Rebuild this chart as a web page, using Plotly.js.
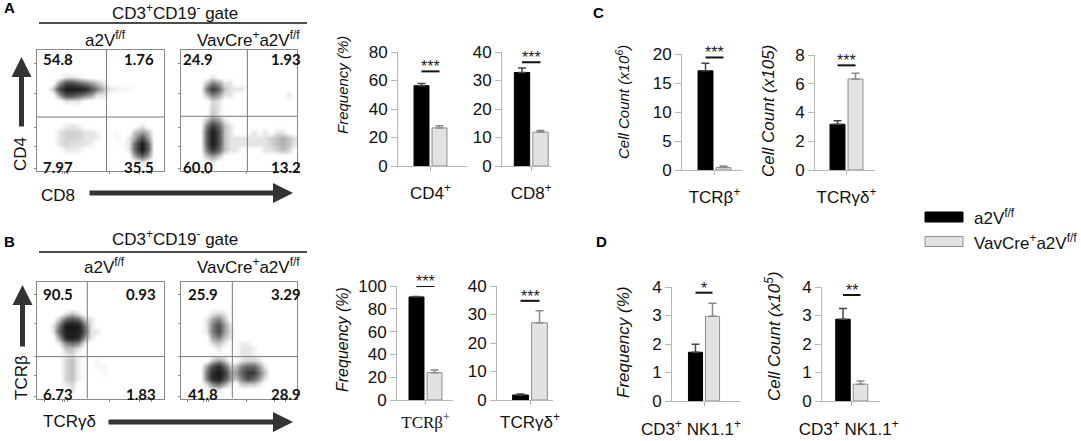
<!DOCTYPE html>
<html>
<head>
<meta charset="utf-8">
<script src="https://cdn.plot.ly/plotly-3.0.1.min.js"></script>
<style>
  html, body { margin: 0; padding: 0; background: #fff; }
  #chart { width: 1081px; height: 441px; }
</style>
</head>
<body>
<div id="chart"></div>
<script>
// ---- data ----
var groups = ["a2V<sup>f/f</sup>", "VavCre<sup>+</sup>a2V<sup>f/f</sup>"];

// bar values: [a2V f/f, VavCre+a2V f/f]
var cd4Freq = [56.4, 26.7], cd4Err = [1.5, 1.5];
var cd8Freq = [32.8, 11.9], cd8Err = [1.6, 0.6];
var tcrbCount = [17.1, 0.42], tcrbCountErr = [1.3, 0.25];
var tcrgdCount = [3.18, 6.33], tcrgdCountErr = [0.25, 0.4];
var tcrbFreq = [90.4, 24.0], tcrbFreqErr = [0.4, 2.3];
var tcrgdFreq = [1.75, 27.1], tcrgdFreqErr = [0.35, 4.2];
var nkFreq = [1.71, 2.97], nkFreqErr = [0.28, 0.46];
var nkCount = [2.87, 0.59], nkCountErr = [0.38, 0.11];

var barLabels = ["CD4<sup>+</sup>", "CD8<sup>+</sup>", "TCRβ<sup>+</sup>", "TCRγδ<sup>+</sup>",
  "TCRβ<sup>+</sup>", "TCRγδ<sup>+</sup>", "CD3<sup>+</sup> NK1.1<sup>+</sup>", "CD3<sup>+</sup> NK1.1<sup>+</sup>"];
var sigMarks = ["***", "***", "***", "***", "***", "***", "*", "**"];

// quadrant percentages [UL, UR, LL, LR]
var aCtrlQuad = ["54.8", "1.76", "7.97", "35.5"];
var aKoQuad = ["24.9", "1.93", "60.0", "13.2"];
var bCtrlQuad = ["90.5", "0.93", "6.73", "1.83"];
var bKoQuad = ["25.9", "3.29", "41.8", "28.9"];

// quadrant gates (fraction of axis)
var gateX = [0.547, 0.574, 0.396, 0.445];
var gateY = [0.446, 0.452, 0.358, 0.358];

// dot-plot density, [column, row, level] on a 20x20 grid (row 0 = bottom)
var aCtrlDots = [
  [4,15,1],[5,15,1],[6,15,0.7],
  [3,14,3],[4,14,6],[5,14,6],[6,14,5],[7,14,4],[8,14,3],[9,14,2],[10,14,1],
  [2,13,2],[3,13,6],[4,13,9],[5,13,9],[6,13,9],[7,13,8],[8,13,6],[9,13,4],[10,13,2],[11,13,1],[12,13,0.7],[13,13,0.5],[14,13,0.4],
  [3,12,3],[4,12,6],[5,12,6],[6,12,5],[7,12,4],[8,12,3],[9,12,1],[10,12,1],
  [4,11,1],[5,11,1],[6,11,1],
  [4,7,0.8],[5,7,1],[6,7,0.8],
  [3,6,1],[4,6,1.5],[5,6,1.5],[6,6,1.5],[7,6,1],[8,6,1],[9,6,0.7],
  [3,5,1],[4,5,1.5],[5,5,1.5],[6,5,1.5],[7,5,1],[8,5,1],[9,5,0.7],
  [3,4,1],[4,4,1.5],[5,4,1.2],[6,4,1],[7,4,1],[8,4,0.7],
  [4,3,0.8],[5,3,0.8],[6,3,0.7],
  [12,6,0.5],[12,5,0.5],[13,4,0.5],
  [16,7,1],
  [15,6,2],[16,6,3],[17,6,2],
  [14,5,1],[15,5,3],[16,5,6],[17,5,3],
  [14,4,1],[15,4,5],[16,4,9],[17,4,5],
  [14,3,1],[15,3,5],[16,3,9],[17,3,5],
  [15,2,3],[16,2,5],[17,2,3],
  [16,1,1]
];
var aKoDots = [
  [5,15,1],
  [4,14,2],[5,14,4],[6,14,3],[7,14,1],[8,14,1],
  [4,13,4],[5,13,7],[6,13,5],[7,13,2],[8,13,1],[9,13,1],[10,13,1],
  [4,12,2],[5,12,4],[6,12,3],[7,12,1],[8,12,1],[18,12,1],
  [5,11,1.5],[6,11,1],
  [5,10,1.5],[6,10,1],
  [5,9,2],[6,9,1],
  [4,8,2],[5,8,4],[6,8,3],[7,8,1],
  [4,7,4],[5,7,7],[6,7,5],[7,7,2],[8,7,1],
  [4,6,5],[5,6,9],[6,6,6],[7,6,2],[8,6,1],[12,6,1],[14,6,1],[16,6,1],[17,6,1],
  [4,5,5],[5,5,9],[6,5,6],[7,5,2],[8,5,1],[9,5,1],[10,5,1],[11,5,1],[12,5,1],[13,5,1],[14,5,1],[15,5,1.5],[16,5,2],[17,5,2.5],[18,5,2],[19,5,1],
  [4,4,5],[5,4,9],[6,4,6],[7,4,2],[8,4,1],[9,4,1],[10,4,1],[11,4,1],[12,4,1],[13,4,1],[14,4,1],[15,4,1.5],[16,4,2],[17,4,2.5],[18,4,2],[19,4,1],
  [4,3,4],[5,3,7],[6,3,5],[7,3,2],[8,3,1],[9,3,1],[14,3,1],[15,3,1],[16,3,1.5],[17,3,2],[18,3,1.5],
  [4,2,2],[5,2,3],[6,2,2],
  [5,1,1]
];
var bCtrlDots = [
  [4,14,1],[5,14,2],[6,14,1],
  [3,13,2],[4,13,5],[5,13,6],[6,13,5],[7,13,2],[8,13,1],
  [2,12,1],[3,12,4],[4,12,9],[5,12,9],[6,12,9],[7,12,4],[8,12,1],
  [2,11,1],[3,11,5],[4,11,9],[5,11,9],[6,11,9],[7,11,5],[8,11,1],[9,11,1],
  [3,10,3],[4,10,8],[5,10,9],[6,10,8],[7,10,3],[8,10,1],
  [3,9,1],[4,9,4],[5,9,5],[6,9,4],[7,9,1],
  [4,8,2],[5,8,2],[6,8,1],
  [4,7,1],[5,7,1.5],
  [4,6,1.5],[5,6,2],[6,6,0.8],[9,6,0.5],
  [4,5,1.5],[5,5,2],[6,5,0.8],[9,5,0.5],[10,5,0.5],
  [4,4,1.5],[5,4,2],[6,4,0.8],[10,4,0.5],
  [4,3,1.5],[5,3,2],[6,3,0.8],
  [4,2,1],[5,2,1.5],
  [5,1,1]
];
var bKoDots = [
  [5,14,1],[6,14,1.5],[7,14,1],
  [4,13,1],[5,13,3],[6,13,4],[7,13,2],
  [4,12,1],[5,12,4],[6,12,6],[7,12,3],[8,12,1],
  [4,11,1],[5,11,4],[6,11,6],[7,11,3],[8,11,1],
  [5,10,3],[6,10,4],[7,10,2],[8,10,1],
  [5,9,1.5],[6,9,2],[7,9,1],[10,9,0.7],[11,9,0.7],
  [6,8,1],[10,8,1],[11,8,1],[12,8,0.7],
  [10,7,1],[11,7,1],[12,7,0.7],
  [5,6,2],[6,6,3],[7,6,2],[10,6,1],[11,6,1.5],[12,6,1.5],[13,6,1],
  [4,5,3],[5,5,6],[6,5,8],[7,5,5],[8,5,2],[9,5,2],[10,5,4],[11,5,5],[12,5,5],[13,5,3],[14,5,1],
  [4,4,4],[5,4,8],[6,4,9],[7,4,7],[8,4,3],[9,4,3],[10,4,5],[11,4,7],[12,4,7],[13,4,4],[14,4,2],
  [4,3,4],[5,3,8],[6,3,9],[7,3,6],[8,3,3],[9,3,2],[10,3,4],[11,3,6],[12,3,5],[13,3,3],[14,3,1],
  [4,2,1.5],[5,2,4],[6,2,5],[7,2,3],[8,2,1],[10,2,2],[11,2,2],[12,2,2],[13,2,1],
  [5,1,1],[6,1,1]
];

// ---- layout helpers ----
var W = 1081, H = 441;
function px(v) { return v / W; }
function py(v) { return 1 - v / H; }

var FONT = "Liberation Sans, Arial, sans-serif";

// bar panel frames: box = [x0, x1, yTop, yZero] in pixels
var barPanels = [
  { vals: cd4Freq, errs: cd4Err, top: 80, dtick: 20, box: [398, 467, 52, 166], zero: 421.5, unit: 18, sigAt: 0.83, shift: 0, stand: 8 },
  { vals: cd8Freq, errs: cd8Err, top: 40, dtick: 10, box: [502, 551, 52, 166], zero: 522, unit: 18.5, sigAt: 0.91, shift: 0, stand: 8 },
  { vals: tcrbCount, errs: tcrbCountErr, top: 20, dtick: 5, box: [682, 742, 54, 170], zero: 705.5, unit: 18, sigAt: 0.97, shift: 0, stand: 8 },
  { vals: tcrgdCount, errs: tcrgdCountErr, top: 8, dtick: 2, box: [815, 875, 55, 170], zero: 837.5, unit: 18, sigAt: 0.91, shift: 0, stand: 8 },
  { vals: tcrbFreq, errs: tcrbFreqErr, top: 100, dtick: 20, box: [397, 453, 286, 400], zero: 416.5, unit: 18, sigAt: 1.0, shift: 0, stand: 3, serif: true },
  { vals: tcrgdFreq, errs: tcrgdFreqErr, top: 40, dtick: 10, box: [497, 553, 286, 400], zero: 520.5, unit: 19, sigAt: 0.87, shift: 0, stand: 3 },
  { vals: nkFreq, errs: nkFreqErr, top: 4, dtick: 1, box: [672, 740, 287, 401], zero: 695.5, unit: 17, sigAt: 0.95, shift: -13, stand: 9 },
  { vals: nkCount, errs: nkCountErr, top: 4, dtick: 1, box: [822, 880, 287, 401], zero: 843, unit: 17.5, sigAt: 0.93, shift: -3, stand: 9 }
];

// flow panels: box = [x0, x1, yTop, yBottom]; ins = [left, right, top, bottom] offsets for the numbers
var flowPanels = [
  { dots: aCtrlDots, quad: aCtrlQuad, box: [37, 164, 50, 171], ins: [5, 9, 3, 2] },
  { dots: aKoDots, quad: aKoQuad, box: [180.5, 297, 50, 171], ins: [1.5, -5, 3, 2] },
  { dots: bCtrlDots, quad: bCtrlQuad, box: [37, 164, 281.5, 398.5], ins: [5, 7, 6.5, 1.5] },
  { dots: bKoDots, quad: bKoQuad, box: [180.5, 297, 281.5, 398.5], ins: [6, -5, 6.5, 1.5] }
];

var data = [];
var layout = {
  width: W, height: H,
  margin: { l: 0, r: 0, t: 0, b: 0 },
  paper_bgcolor: "#fff", plot_bgcolor: "rgba(0,0,0,0)",
  showlegend: false,
  font: { family: FONT, size: 16, color: "#111" },
  shapes: [], annotations: []
};

var barColors = ["#000000", "#e2e2e2"];
var barEdges = ["#000000", "#8e8e8e"];
var errColors = ["#444444", "#8a8a8a"];

barPanels.forEach(function (p, i) {
  var n = i + 1, xs = "x" + n, ys = "y" + n;
  var b = p.box;
  groups.forEach(function (g, k) {
    data.push({
      type: "bar", x: [k], y: [p.vals[k]], width: 0.83, name: g,
      xaxis: xs, yaxis: ys, hoverinfo: "skip",
      marker: { color: barColors[k], line: { color: barEdges[k], width: 1 } },
      error_y: { type: "data", symmetric: false, array: [p.errs[k]], arrayminus: [0],
        color: errColors[k], thickness: 1.5, width: 4 }
    });
  });
  layout["xaxis" + (n === 1 ? "" : n)] = {
    domain: [px(b[0]), px(b[1])], anchor: ys,
    range: [(b[0] - p.zero) / p.unit, (b[1] - p.zero) / p.unit],
    tickmode: "array", tickvals: [0.5], ticktext: [barLabels[i]],
    ticks: "outside", ticklen: 4, tickcolor: "#b5b5b5",
    ticklabelshift: p.shift, ticklabelstandoff: p.stand,
    tickfont: { size: 17, family: p.serif ? "Liberation Serif, Times New Roman, serif" : FONT, color: "#111" },
    showline: true, linecolor: "#b5b5b5", linewidth: 1,
    showgrid: false, zeroline: false, fixedrange: true
  };
  layout["yaxis" + (n === 1 ? "" : n)] = {
    domain: [py(b[3]), py(b[2])], anchor: xs,
    range: [0, p.top], dtick: p.dtick, tick0: 0,
    ticks: "outside", ticklen: 6, tickcolor: "#b5b5b5",
    tickfont: { size: 17, color: "#111" },
    showline: true, linecolor: "#b5b5b5", linewidth: 1,
    showgrid: false, zeroline: false, fixedrange: true
  };
  var sy = p.top * p.sigAt;
  layout.shapes.push({ type: "line", xref: xs, yref: ys, x0: 0, x1: 1, y0: sy, y1: sy,
    line: { color: "#111", width: 2 } });
  layout.annotations.push({ xref: xs, yref: ys, x: 0.5, y: sy, text: sigMarks[i],
    showarrow: false, xanchor: "center", yanchor: "bottom", yshift: -6, font: { size: 16, color: "#222" } });
});

// flow dot plots as smoothed density heat maps
var grid = [];
for (var g = 0; g < 20; g++) grid.push((g + 0.5) / 20);

function densityGrid(cells) {
  var z = [];
  for (var r = 0; r < 20; r++) z.push(new Array(20).fill(0));
  cells.forEach(function (c) { z[c[1]][c[0]] = c[2]; });
  return z;
}

var flowScale = [[0, "#ffffff"], [0.05, "#f7f7f7"], [0.12, "#e2e2e2"], [0.25, "#b8b8b8"],
  [0.5, "#6e6e6e"], [0.8, "#343434"], [1, "#1c1c1c"]];

flowPanels.forEach(function (f, i) {
  var n = i + 9, xs = "x" + n, ys = "y" + n;
  var b = f.box;
  data.push({
    type: "heatmap", x: grid, y: grid, z: densityGrid(f.dots),
    xaxis: xs, yaxis: ys, zmin: 0, zmax: 9, zsmooth: "best",
    colorscale: flowScale, showscale: false, hoverinfo: "skip"
  });
  var ax = {
    range: [0, 1], showline: true, mirror: true, linecolor: "#8a8a8a", linewidth: 1,
    showgrid: false, zeroline: false, showticklabels: false, fixedrange: true,
    ticks: "outside", ticklen: 2, tickcolor: "#888", tickmode: "array"
  };
  layout["xaxis" + n] = Object.assign({}, ax, { domain: [px(b[0]), px(b[1])], anchor: ys,
    tickvals: [0.06, 0.2, 0.22, 0.24, 0.57, 0.81, 0.9] });
  layout["yaxis" + n] = Object.assign({}, ax, { domain: [py(b[3]), py(b[2])], anchor: xs,
    tickvals: [0.02, 0.2, 0.36, 0.64, 0.89] });
  layout.shapes.push({ type: "line", xref: xs, yref: ys, x0: gateX[i], x1: gateX[i], y0: 0, y1: 1,
    line: { color: "#7a7a7a", width: 1 } });
  layout.shapes.push({ type: "line", xref: xs, yref: ys, x0: 0, x1: 1, y0: gateY[i], y1: gateY[i],
    line: { color: "#7a7a7a", width: 1 } });
  var qf = { family: "Lato, Liberation Sans, sans-serif", size: 15, color: "#111", weight: "bold" };
  var spots = [
    [b[0] + f.ins[0], b[2] + f.ins[2], "left", "top"],
    [b[1] - f.ins[1], b[2] + f.ins[2], "right", "top"],
    [b[0] + f.ins[0], b[3] + f.ins[3], "left", "bottom"],
    [b[1] - f.ins[1], b[3] + f.ins[3], "right", "bottom"]
  ];
  spots.forEach(function (s, k) {
    layout.annotations.push({ xref: "paper", yref: "paper", x: px(s[0]), y: py(s[1]),
      xanchor: s[2], yanchor: s[3], borderpad: 0, yshift: s[3] === "top" ? 4 : -4,
      text: "<b>" + f.quad[k] + "</b>", showarrow: false, font: qf });
  });
});

// free text
function note(text, x, y, opts) {
  layout.annotations.push(Object.assign({ xref: "paper", yref: "paper", x: px(x), y: py(y),
    xanchor: "center", yanchor: "middle",
    text: text, showarrow: false, font: { size: 17, color: "#111" } }, opts || {}));
}

note("<b>A</b>", 9, 8, { font: { size: 15, color: "#000" } });
note("<b>B</b>", 9, 241, { font: { size: 15, color: "#000" } });
note("<b>C</b>", 598, 13, { font: { size: 15, color: "#000" } });
note("<b>D</b>", 601, 241, { font: { size: 15, color: "#000" } });

[[12, 23], [238, 252]].forEach(function (r) {
  note("CD3<sup>+</sup>CD19<sup>-</sup> gate", 175, r[0]);
  layout.shapes.push({ type: "line", xref: "paper", yref: "paper", x0: px(39), x1: px(307),
    y0: py(r[1]), y1: py(r[1]), line: { color: "#111", width: 1.5 } });
});
note(groups[0], 105, 39);
note(groups[1], 248, 39);
note(groups[0], 104, 266);
note(groups[1], 248, 266);

note("CD4", 20, 154, { textangle: -90 });
note("CD8", 58, 195);
note("TCRβ", 21, 378, { textangle: -90 });
note("TCRγδ", 69, 421);

function arrow(xh, yh, xt, yt) {
  layout.annotations.push({ xref: "paper", yref: "paper", x: px(xh), y: py(yh),
    ax: xt - xh, ay: yt - yh, text: "", showarrow: true, arrowhead: 2, arrowsize: 0.8,
    arrowwidth: 5, arrowcolor: "#333", standoff: 0, startstandoff: 0 });
}
arrow(21.5, 57, 21.5, 128);
arrow(293, 193, 88, 193);
arrow(22.5, 285, 22.5, 348);
arrow(293, 422, 107, 422);

// y-axis titles
var yTitles = [
  ["Frequency (%)", 342, 85, 15],
  ["Cell Count (x10<sup>6</sup>)", 622, 102, 15],
  ["Cell Count (x105)", 768, 111, 17],
  ["Frequency (%)", 342, 340, 16],
  ["Frequency (%)", 623, 343, 17],
  ["Cell Count (x10<sup>5</sup>)", 773, 337, 17]
];
yTitles.forEach(function (t) {
  note("<i>" + t[0] + "</i>", t[1], t[2], { textangle: -90, font: { size: t[3], color: "#111" } });
});

// legend
groups.forEach(function (g, k) {
  var yc = k === 0 ? 217 : 241.5;
  layout.shapes.push({ type: "rect", xref: "paper", yref: "paper",
    x0: px(925), x1: px(963), y0: py(yc + 5), y1: py(yc - 5),
    fillcolor: barColors[k], line: { color: barEdges[k], width: 1 } });
  note(g, 972, yc, { xanchor: "left" });
});

Plotly.newPlot("chart", data, layout, { displayModeBar: false, staticPlot: true });
</script>
</body>
</html>
